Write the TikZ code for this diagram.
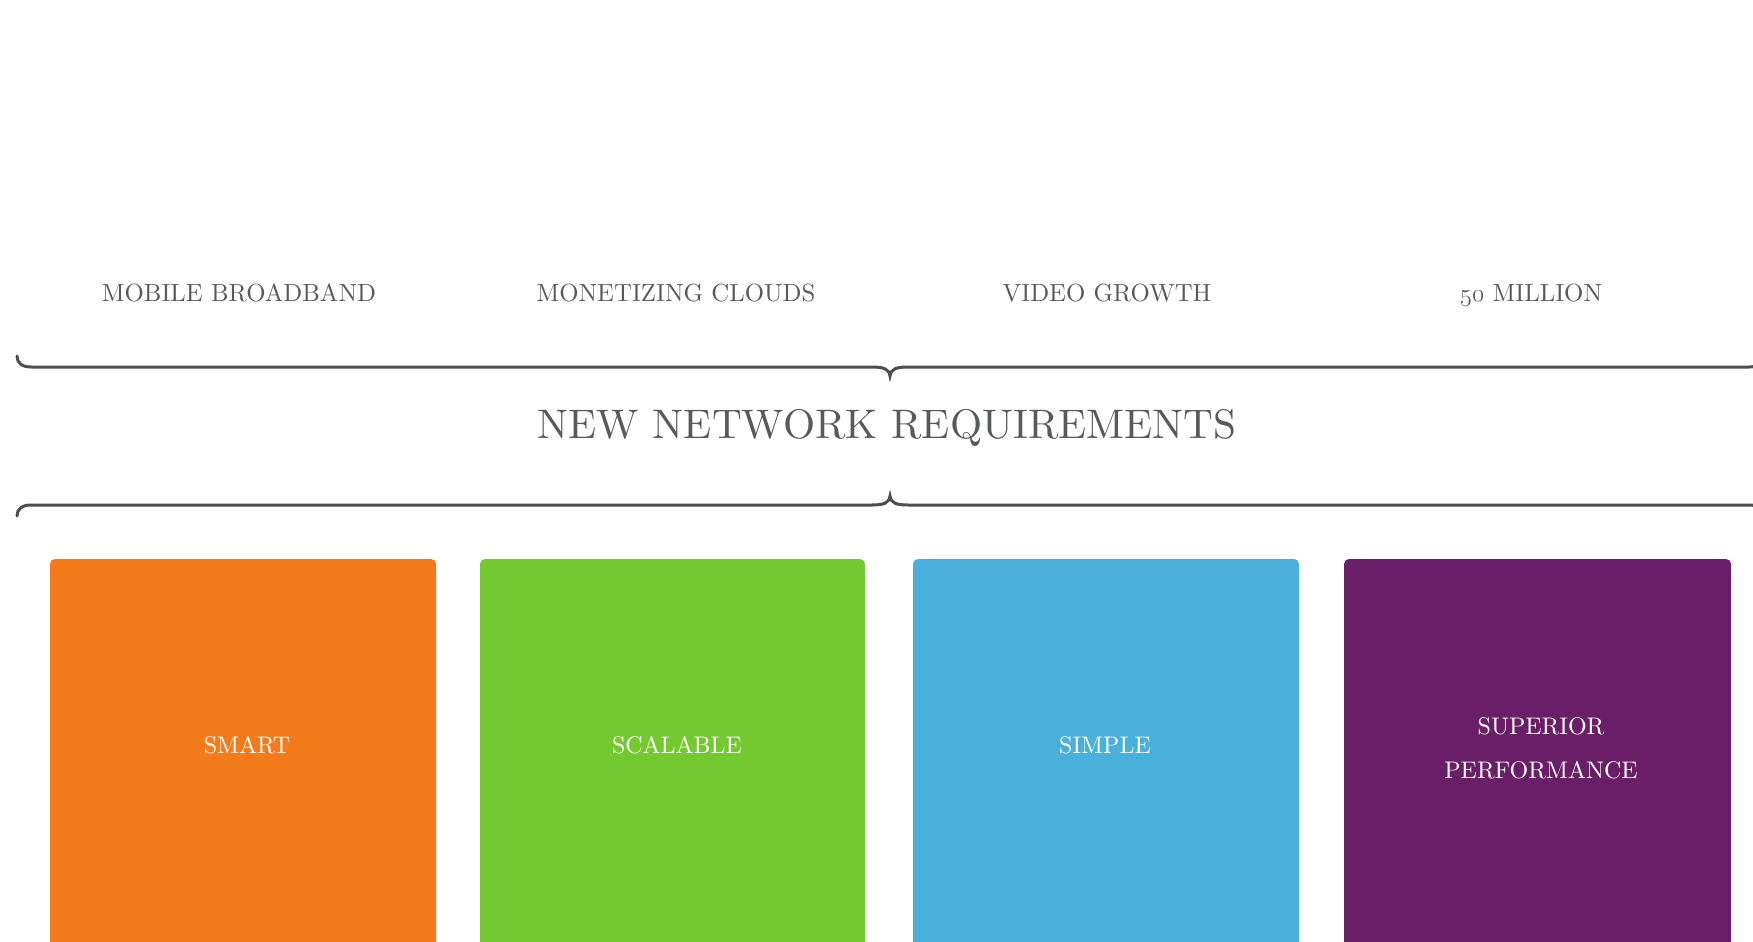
\documentclass[tikz,border=0pt]{standalone}
\usepackage{fontspec}
\setmainfont{lmroman10-regular}[Extension=.otf]
\definecolor{txtgray}{HTML}{58595B}
\definecolor{bracegray}{HTML}{4D4E53}
\definecolor{corange}{HTML}{F47B1A}
\definecolor{cgreen}{HTML}{74C930}
\definecolor{cblue}{HTML}{49AFDB}
\definecolor{cpurple}{HTML}{6A1E67}
\newcommand{\osnum}[1]{{\usefont{OML}{cmm}{m}{it}#1}}
\begin{document}
\begin{tikzpicture}[x=1pt,y=-1pt,
  toplabel/.style={anchor=base,inner sep=0pt,text=txtgray,font=\fontsize{24.8}{28}\selectfont},
  title/.style={anchor=base,inner sep=0pt,text=txtgray,font=\fontsize{41.3}{48}\selectfont},
  boxlabel/.style={anchor=base,inner sep=0pt,text=white,align=center,font=\fontsize{24}{44}\selectfont},
  brace/.style={draw=bracegray,line width=3pt,line cap=round},
  card/.style={rounded corners=5pt}]
\useasboundingbox (0,0) rectangle (1753,942);
\clip (0,0) rectangle (1753,942);
% top labels
\node[toplabel] (mob) at (239,301) {MOBILE BROADBAND};
\node[toplabel] (mon) at (676,301) {MONETIZING CLOUDS};
\node[toplabel] (vid) at (1107,301) {VIDEO GROWTH};
\node[toplabel] (mil) at (1531,301) {\osnum{50} MILLION};
% braces
\draw[brace] (17,356) .. controls (17,363) and (22,367) .. (31,367)
  -- (872,367) .. controls (884,367) and (889,369) .. (890,376)
  .. controls (891,369) and (896,367) .. (908,367)
  -- (1749,367) .. controls (1758,367) and (1763,363) .. (1763,356);
\node[title] (req) at (887,438) {NEW NETWORK REQUIREMENTS};
\draw[brace] (17,516) .. controls (17,509) and (22,505) .. (31,505)
  -- (872,505) .. controls (884,505) and (889,503) .. (890,496)
  .. controls (891,503) and (896,505) .. (908,505)
  -- (1749,505) .. controls (1758,505) and (1763,509) .. (1763,516);
% cards
\fill[card,corange] (50,559) rectangle (436,960);
\fill[card,cgreen] (480,559) rectangle (865,960);
\fill[card,cblue] (913,559) rectangle (1299,960);
\fill[card,cpurple] (1344,559) rectangle (1731,960);
\node[boxlabel] (smart) at (247,753) {SMART};
\node[boxlabel] (scal) at (677,753) {SCALABLE};
\node[boxlabel] (simp) at (1105,753) {SIMPLE};
\node[boxlabel,anchor=north] (sup) at (1541,717) {SUPERIOR\\PERFORMANCE};
\end{tikzpicture}
\end{document}
